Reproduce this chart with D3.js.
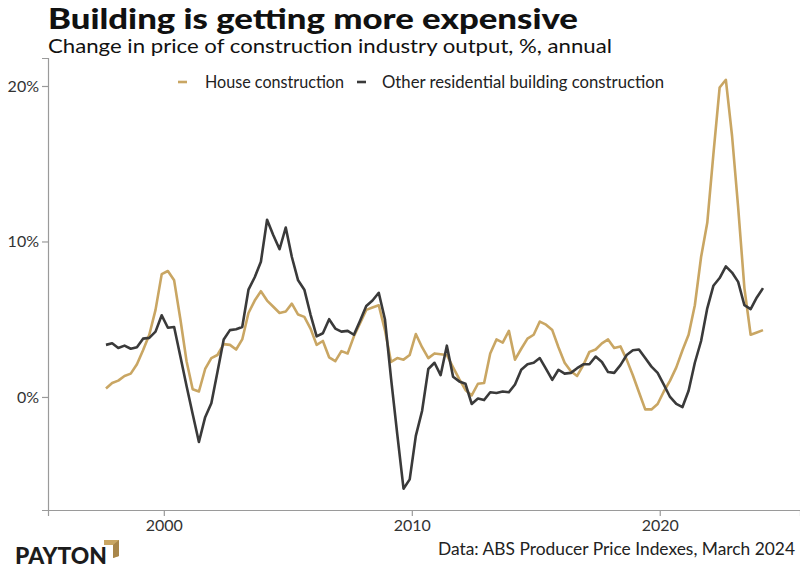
<!DOCTYPE html>
<html><head><meta charset="utf-8">
<script src="https://cdn.jsdelivr.net/npm/d3@7"></script>
<style>body{margin:0;background:#fff}svg{display:block}text{font-family:Lato,"Noto Sans",sans-serif}</style>
</head><body><svg id="c" width="800" height="571"></svg>
<script>
const quarters=["1997-09","1997-12",
"1998-03","1998-06","1998-09","1998-12","1999-03","1999-06","1999-09","1999-12",
"2000-03","2000-06","2000-09","2000-12","2001-03","2001-06","2001-09","2001-12",
"2002-03","2002-06","2002-09","2002-12","2003-03","2003-06","2003-09","2003-12",
"2004-03","2004-06","2004-09","2004-12","2005-03","2005-06","2005-09","2005-12",
"2006-03","2006-06","2006-09","2006-12","2007-03","2007-06","2007-09","2007-12",
"2008-03","2008-06","2008-09","2008-12","2009-03","2009-06","2009-09","2009-12",
"2010-03","2010-06","2010-09","2010-12","2011-03","2011-06","2011-09","2011-12",
"2012-03","2012-06","2012-09","2012-12","2013-03","2013-06","2013-09","2013-12",
"2014-03","2014-06","2014-09","2014-12","2015-03","2015-06","2015-09","2015-12",
"2016-03","2016-06","2016-09","2016-12","2017-03","2017-06","2017-09","2017-12",
"2018-03","2018-06","2018-09","2018-12","2019-03","2019-06","2019-09","2019-12",
"2020-03","2020-06","2020-09","2020-12","2021-03","2021-06","2021-09","2021-12",
"2022-03","2022-06","2022-09","2022-12","2023-03","2023-06","2023-09","2023-12",
"2024-03"];
const house=[0.55,0.9,
1.05,1.35,1.5,2.1,3.0,4.0,5.6,7.9,
8.1,7.5,5.0,2.3,0.5,0.35,1.8,2.5,
2.7,3.4,3.35,3.05,3.7,5.4,6.2,6.8,
6.2,5.8,5.4,5.5,6.0,5.3,5.15,4.4,
3.35,3.6,2.55,2.3,2.95,2.8,3.9,4.75,
5.6,5.75,5.9,4.3,2.25,2.5,2.4,2.7,
4.05,3.2,2.5,2.8,2.75,2.7,1.9,1.15,
0.45,0.1,0.85,0.9,2.8,3.7,3.5,4.25,
2.4,3.1,3.75,4.0,4.85,4.65,4.3,3.2,
2.2,1.65,1.35,2.05,2.9,3.05,3.45,3.7,
3.15,3.25,2.4,1.4,0.3,-0.8,-0.8,-0.45,
0.35,1.05,1.9,3.0,4.0,5.9,9.0,11.2,
15.6,19.9,20.4,16.8,12.2,7.0,4.0,4.15,
4.3];
const other=[3.35,3.45,
3.15,3.3,3.1,3.2,3.75,3.8,4.2,5.25,
4.45,4.5,2.6,0.7,-1.1,-2.9,-1.3,-0.4,
1.6,3.7,4.3,4.35,4.5,6.9,7.7,8.7,
11.4,10.4,9.5,10.9,9.0,7.5,6.9,5.3,
3.9,4.1,5.0,4.4,4.2,4.25,4.0,4.9,
5.85,6.2,6.7,5.0,1.2,-2.4,-5.9,-5.3,
-2.5,-0.9,1.8,2.2,1.4,3.3,1.3,1.0,
0.85,-0.45,-0.1,-0.2,0.3,0.25,0.35,0.3,
0.8,1.75,2.1,2.2,2.5,1.8,1.1,1.75,
1.5,1.55,1.85,2.1,2.1,2.6,2.25,1.6,
1.55,2.05,2.7,3.0,3.05,2.5,1.95,1.55,
0.8,0.0,-0.45,-0.65,0.4,2.2,3.6,5.7,
7.15,7.65,8.4,8.0,7.4,5.9,5.65,6.4,
7.0];
const yTicks=[0,10,20];
const xTickYears=[2000,2010,2020];
const seriesNames=["House construction","Other residential building construction"];
const colors=["#c9a663","#3a3a3a"];

const parse=d3.timeParse("%Y-%m");
const dates=quarters.map(parse);
const svg=d3.select("#c");
svg.append("rect").attr("width",800).attr("height",571).attr("fill","#fff");

const x=d3.scaleTime().domain([new Date(1995,4,1),new Date(2025,7,28)]).range([48,800]);
const y=d3.scaleLinear().domain([-7.27,21.8]).range([510,58]);

// title
svg.append("text").attr("x",48).attr("y",29).attr("font-size",28).attr("font-weight",900)
  .attr("fill","#111").attr("textLength",530).attr("lengthAdjust","spacingAndGlyphs")
  .text("Building is getting more expensive");
svg.append("text").attr("x",48).attr("y",53).attr("font-size",20).attr("fill","#111")
  .attr("textLength",564).attr("lengthAdjust","spacingAndGlyphs")
  .text("Change in price of construction industry output, %, annual");

// axes
const ya=svg.append("g").attr("transform","translate(48,0)")
  .call(d3.axisLeft(y).tickValues(yTicks).tickFormat(d=>d+"%").tickSize(6).tickPadding(3));
const xa=svg.append("g").attr("transform","translate(0,510)")
  .call(d3.axisBottom(x).tickValues(xTickYears.map(v=>new Date(v,0,1))).tickFormat(d3.timeFormat("%Y")).tickSize(6).tickPadding(4));
[ya,xa].forEach(g=>{
  g.select(".domain").attr("stroke","#9a9a9a").attr("stroke-width",1.2);
  g.selectAll(".tick line").attr("stroke","#9a9a9a").attr("stroke-width",1.2);
  g.selectAll(".tick text").attr("font-size",16).attr("fill","#333").attr("font-family","Lato,sans-serif");
});

// lines
const line=d3.line().x((d,i)=>x(dates[i])).y(d=>y(d));
[house,other].forEach((s,k)=>{
  svg.append("path").datum(s).attr("d",line).attr("fill","none")
    .attr("stroke",colors[k]).attr("stroke-width",2.6).attr("stroke-linejoin","round");
});

// legend
const leg=[{x0:178,tx:205,tl:139},{x0:357,tx:382,tl:282}];
leg.forEach((l,k)=>{
  svg.append("line").attr("x1",l.x0).attr("x2",l.x0+9).attr("y1",82).attr("y2",82)
    .attr("stroke",colors[k]).attr("stroke-width",2.6);
  svg.append("text").attr("x",l.tx).attr("y",88).attr("font-size",17).attr("fill","#222")
    .attr("textLength",l.tl).attr("lengthAdjust","spacingAndGlyphs").text(seriesNames[k]);
});

// source
svg.append("text").attr("x",795).attr("y",555).attr("text-anchor","end").attr("font-size",17)
  .attr("fill","#222").attr("textLength",357).attr("lengthAdjust","spacingAndGlyphs")
  .text("Data: ABS Producer Price Indexes, March 2024");

// logo
svg.append("text").attr("x",15).attr("y",564).attr("font-size",22).attr("font-weight",900)
  .attr("fill","#1c1c1c").attr("textLength",92).attr("lengthAdjust","spacingAndGlyphs").text("PAYTON");
svg.append("polygon").attr("points","104,540 119,540 119,556 113,558 113,545 104,545").attr("fill","#c9a663");
svg.append("polygon").attr("points","113,545 119,540 119,556 113,558").attr("fill","#a8864a");
</script></body></html>
